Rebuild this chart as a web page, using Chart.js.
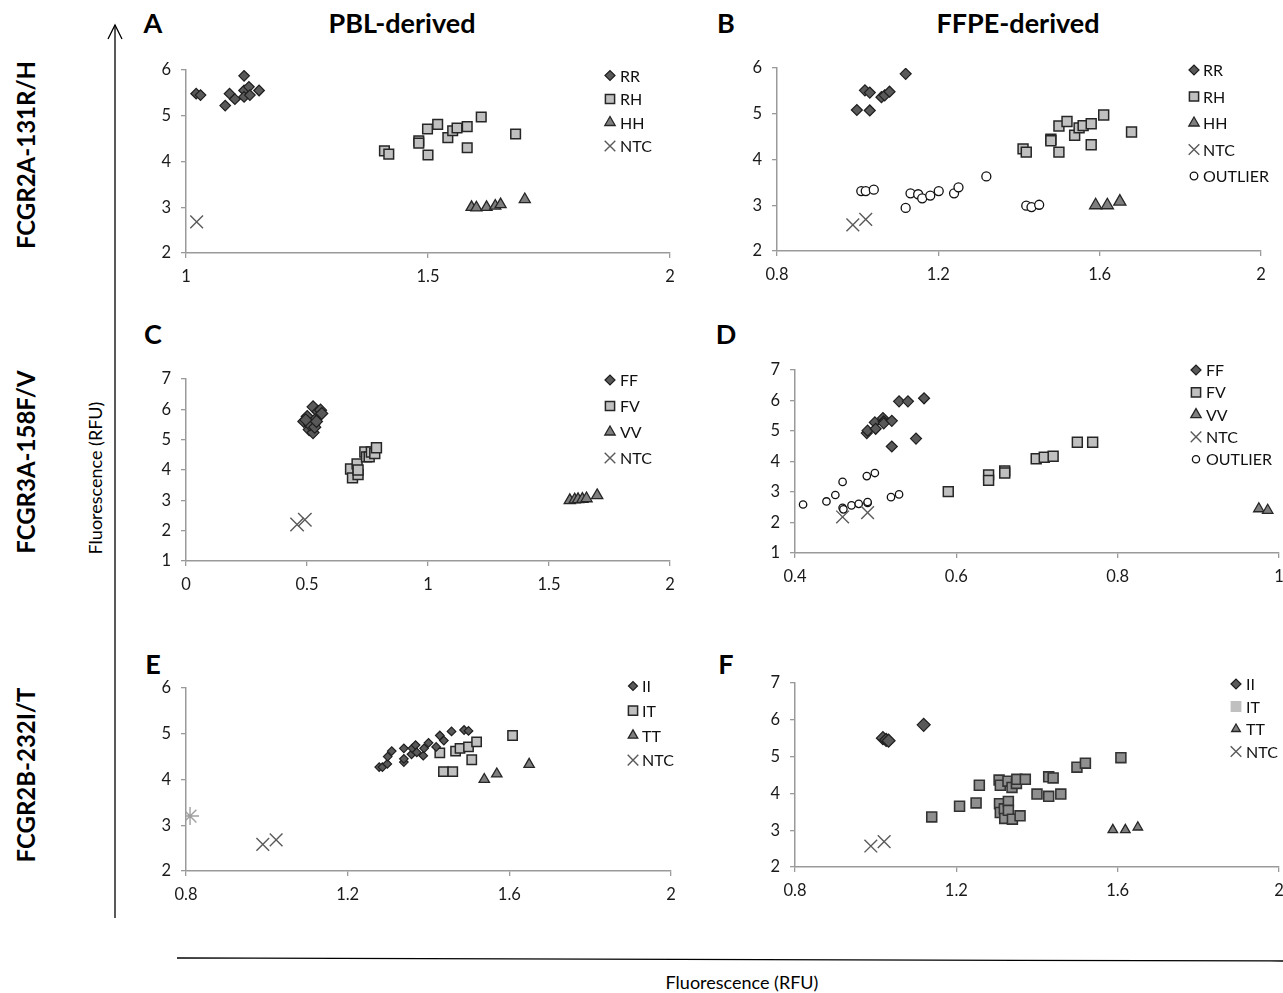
<!DOCTYPE html>
<html><head><meta charset="utf-8">
<script src="https://cdn.jsdelivr.net/npm/chart.js@4.4.1/dist/chart.umd.min.js"></script>
<style>
html,body{margin:0;padding:0;background:#fff;width:1283px;height:993px;overflow:hidden;font-family:Lato,"Open Sans",sans-serif;}
.box{position:absolute;}
.t{position:absolute;white-space:nowrap;color:#000;transform:translate(-50%,-50%);line-height:1;}
.rot{transform:translate(-50%,-50%) rotate(-90deg);}
svg{position:absolute;left:0;top:0;}
</style></head><body>
<svg width="1283" height="993">
  <line x1="115" y1="25" x2="115" y2="918" stroke="#000" stroke-width="1.3"/>
  <polyline points="108,39 115,25 122,39" fill="none" stroke="#000" stroke-width="1.3"/>
  <line x1="177" y1="958" x2="1283" y2="961" stroke="#000" stroke-width="1.3"/>
</svg>
<div class="t" style="left:153px;top:22px;font-size:27px;font-weight:bold">A</div>
<div class="t" style="left:726px;top:22px;font-size:27px;font-weight:bold">B</div>
<div class="t" style="left:153px;top:333px;font-size:27px;font-weight:bold">C</div>
<div class="t" style="left:726px;top:333px;font-size:27px;font-weight:bold">D</div>
<div class="t" style="left:153px;top:663px;font-size:27px;font-weight:bold">E</div>
<div class="t" style="left:726px;top:663px;font-size:27px;font-weight:bold">F</div>
<div class="t" style="left:402px;top:22px;font-size:27px;font-weight:bold">PBL-derived</div>
<div class="t" style="left:1018px;top:22px;font-size:27px;font-weight:bold">FFPE-derived</div>
<div class="t rot" style="left:26px;top:155px;font-size:24px;font-weight:bold">FCGR2A-131R/H</div>
<div class="t rot" style="left:26px;top:462px;font-size:24px;font-weight:bold">FCGR3A-158F/V</div>
<div class="t rot" style="left:26px;top:775px;font-size:24px;font-weight:bold">FCGR2B-232I/T</div>
<div class="t rot" style="left:95px;top:478px;font-size:18px;">Fluorescence (RFU)</div>
<div class="t" style="left:742px;top:982px;font-size:18px;">Fluorescence (RFU)</div>
<div id="wrap"></div>
<script>
// ---------------- DATA ----------------
// Panel A (PBL, FCGR2A-131R/H)
const A_xTicks = [1, 1.5, 2];
const A_yTicks = [2, 3, 4, 5, 6];
const A_RR = [[1.021,5.48],[1.030,5.45],[1.081,5.22],[1.090,5.48],[1.101,5.36],[1.120,5.87],[1.120,5.55],[1.120,5.41],[1.130,5.63],[1.132,5.45],[1.151,5.55]];
const A_RH = [[1.410,4.23],[1.419,4.16],[1.481,4.45],[1.481,4.40],[1.499,4.71],[1.500,4.14],[1.520,4.81],[1.541,4.52],[1.551,4.67],[1.560,4.73],[1.581,4.76],[1.581,4.30],[1.610,4.97],[1.681,4.60]];
const A_HH = [[1.590,3.0],[1.600,2.99],[1.621,3.0],[1.639,3.03],[1.650,3.06],[1.700,3.17]];
const A_NTC = [[1.022,2.68]];

// Panel B (FFPE, FCGR2A-131R/H)
const B_xTicks = [0.8, 1.2, 1.6, 2];
const B_yTicks = [2, 3, 4, 5, 6];
const B_RR = [[0.998,5.08],[1.018,5.51],[1.030,5.46],[1.030,5.07],[1.059,5.36],[1.067,5.40],[1.079,5.48],[1.119,5.87]];
const B_RH = [[1.410,4.23],[1.418,4.16],[1.479,4.44],[1.479,4.41],[1.499,4.73],[1.499,4.16],[1.519,4.83],[1.538,4.53],[1.549,4.69],[1.559,4.74],[1.579,4.78],[1.579,4.32],[1.610,4.97],[1.679,4.60]];
const B_HH = [[1.590,3.0],[1.619,3.0],[1.650,3.08]];
const B_NTC = [[0.988,2.57],[1.020,2.69]];
const B_OUT = [[1.009,3.31],[1.020,3.31],[1.040,3.34],[1.119,2.94],[1.131,3.26],[1.150,3.24],[1.160,3.15],[1.180,3.21],[1.201,3.31],[1.239,3.26],[1.250,3.39],[1.319,3.63],[1.418,2.99],[1.431,2.96],[1.450,3.01]];

// Panel C (PBL, FCGR3A-158F/V)
const C_xTicks = [0, 0.5, 1, 1.5, 2];
const C_yTicks = [1, 2, 3, 4, 5, 6, 7];
const C_FF = [[0.487,5.60],[0.501,5.76],[0.509,5.33],[0.525,6.08],[0.525,5.23],[0.528,5.49],[0.539,5.70],[0.546,5.92],[0.556,5.97],[0.561,5.86],[0.512,5.49],[0.532,5.41],[0.539,5.60],[0.495,5.65]];
const C_FV = [[0.680,4.03],[0.688,3.74],[0.707,4.20],[0.711,3.85],[0.739,4.59],[0.746,4.43],[0.757,4.43],[0.766,4.59],[0.780,4.54],[0.787,4.73],[0.711,4.00]];
const C_VV = [[1.586,3.0],[1.606,3.02],[1.620,3.03],[1.638,3.04],[1.655,3.06],[1.699,3.16]];
const C_NTC = [[0.459,2.20],[0.491,2.36]];

// Panel D (FFPE, FCGR3A-158F/V)
const D_xTicks = [0.4, 0.6, 0.8, 1];
const D_yTicks = [1, 2, 3, 4, 5, 6, 7];
const D_FF = [[0.489,4.93],[0.490,5.01],[0.499,5.28],[0.500,5.07],[0.509,5.42],[0.510,5.31],[0.510,5.25],[0.520,5.33],[0.520,4.49],[0.529,5.97],[0.540,5.97],[0.550,4.75],[0.560,6.07]];
const D_FV = [[0.590,3.01],[0.640,3.56],[0.640,3.38],[0.660,3.69],[0.660,3.62],[0.699,4.09],[0.709,4.14],[0.720,4.17],[0.750,4.63],[0.769,4.63]];
const D_VV = [[0.975,2.45],[0.986,2.40]];
const D_NTC = [[0.459,2.18],[0.490,2.32]];
const D_OUT = [[0.410,2.59],[0.439,2.69],[0.450,2.90],[0.459,3.33],[0.459,2.48],[0.460,2.43],[0.470,2.56],[0.479,2.61],[0.489,3.52],[0.490,2.64],[0.490,2.67],[0.499,3.62],[0.519,2.83],[0.529,2.92]];

// Panel E (PBL, FCGR2B-232I/T)
const E_xTicks = [0.8, 1.2, 1.6, 2];
const E_yTicks = [2, 3, 4, 5, 6];
const E_II = [[1.278,4.27],[1.286,4.27],[1.298,4.34],[1.299,4.50],[1.309,4.62],[1.339,4.38],[1.339,4.45],[1.339,4.68],[1.358,4.55],[1.360,4.68],[1.368,4.75],[1.371,4.59],[1.387,4.52],[1.389,4.68],[1.400,4.80],[1.419,4.71],[1.428,4.96],[1.438,4.85],[1.457,5.05],[1.488,5.08],[1.499,5.06]];
const E_IT = [[1.428,4.58],[1.437,4.17],[1.460,4.17],[1.467,4.62],[1.478,4.68],[1.499,4.71],[1.507,4.43],[1.519,4.82],[1.608,4.96]];
const E_TT = [[1.538,4.00],[1.569,4.12],[1.649,4.33]];
const E_NTC = [[0.810,3.20],[0.990,2.58],[1.023,2.68]];

// Panel F (FFPE, FCGR2B-232I/T)
const F_xTicks = [0.8, 1.2, 1.6, 2];
const F_yTicks = [2, 3, 4, 5, 6, 7];
const F_II = [[1.018,5.50],[1.026,5.45],[1.032,5.43],[1.119,5.86]];
const F_IT = [[1.139,3.36],[1.208,3.65],[1.249,3.74],[1.257,4.22],[1.306,4.36],[1.309,4.22],[1.307,3.72],[1.309,3.48],[1.319,3.58],[1.320,3.32],[1.328,4.33],[1.329,3.78],[1.329,3.54],[1.338,4.16],[1.339,3.30],[1.349,4.27],[1.350,4.38],[1.358,3.39],[1.371,4.38],[1.400,3.98],[1.429,4.45],[1.429,3.92],[1.440,4.42],[1.459,3.98],[1.499,4.71],[1.520,4.82],[1.608,4.97]];
const F_TT = [[1.588,3.01],[1.619,3.01],[1.650,3.08]];
const F_NTC = [[0.988,2.57],[1.021,2.69]];

// ---------------- STYLES ----------------
const STY = {
  diamond: {pointStyle:'rectRot', bg:'#595959', border:'#1e1e1e', bw:1.2},
  square:  {pointStyle:'rect', bg:'#c0c0c0', border:'#262626', bw:1.5},
  squareF: {pointStyle:'rect', bg:'#8f8f8f', border:'#333333', bw:1.6},
  triangle:{pointStyle:'triangle', bg:'#7f7f7f', border:'#262626', bw:1.3},
  cross:   {pointStyle:'crossRot', bg:'#595959', border:'#5a5a5a', bw:1.4},
  circle:  {pointStyle:'circle', bg:'#ffffff', border:'#111111', bw:1.3}
};

function S(label, data, style, r, lr, extra) {
  return Object.assign({label, style, r, lr, data}, extra || {});
}

const PANELS = [
  {plot:[186,670,64,253], xr:[1,2], xt:A_xTicks, yr:[2,6], yt:A_yTicks,
   legend:{x:610, tx:620, y:75.5, dy:23.5},
   series:[S('RR',A_RR,'diamond',5.3,5), S('RH',A_RH,'square',6.8,6.5), S('HH',A_HH,'triangle',6.4,6), S('NTC',A_NTC,'cross',9,7.5)]},
  {plot:[777,1261,62,251], xr:[0.8,2], xt:B_xTicks, yr:[2,6], yt:B_yTicks,
   legend:{x:1194, tx:1203, y:70, dy:26.5},
   series:[S('RR',B_RR,'diamond',5.5,5), S('RH',B_RH,'square',7,6.5), S('HH',B_HH,'triangle',7,6), S('NTC',B_NTC,'cross',9,7.5), S('OUTLIER',B_OUT,'circle',4.5,3.8)]},
  {plot:[186,670,373,561], xr:[0,2], xt:C_xTicks, yr:[1,7], yt:C_yTicks,
   legend:{x:610, tx:620, y:380, dy:26},
   series:[S('FF',C_FF,'diamond',6,5), S('FV',C_FV,'square',7,6.5), S('VV',C_VV,'triangle',6.5,6), S('NTC',C_NTC,'cross',9.5,7.5)]},
  {plot:[795,1279,364,553], xr:[0.4,1], xt:D_xTicks, yr:[1,7], yt:D_yTicks,
   legend:{x:1196, tx:1206, y:370, dy:22.3},
   series:[S('FF',D_FF,'diamond',5.5,5), S('FV',D_FV,'square',7,6.5), S('VV',D_VV,'triangle',6,6), S('NTC',D_NTC,'cross',9,7.5), S('OUTLIER',D_OUT,'circle',3.7,3.6)]},
  {plot:[186,671,682,871], xr:[0.8,2], xt:E_xTicks, yr:[2,6], yt:E_yTicks,
   legend:{x:633, tx:642, y:686, dy:24.7},
   series:[S('II',E_II,'diamond',4.3,4.5), S('IT',E_IT,'square',6.6,6.5), S('TT',E_TT,'triangle',6,5.5),
           S('NTC',E_NTC,'cross',9,7.5,{pointStyles:['star','crossRot','crossRot'], colors:['#a0a0a0','#5a5a5a','#5a5a5a']})]},
  {plot:[795,1279,677,867], xr:[0.8,2], xt:F_xTicks, yr:[2,7], yt:F_yTicks,
   legend:{x:1236, tx:1246, y:684, dy:22.5},
   series:[S('II',F_II,'diamond',6.5,5), S('IT',F_IT,'squareF',7,6.5,{legendBg:'#c0c0c0', legendBorder:'#c0c0c0'}), S('TT',F_TT,'triangle',5.5,5), S('NTC',F_NTC,'cross',9,7.5)]}
];

// ---------------- LAYOUT CONSTANTS ----------------
const YW = 55, XH = 45, PT = 14, PR = 24;
const TICK_FONT = {family:'Lato', size:16.5};

function fmt(v){ return String(+Number(v).toFixed(3)); }

function drawPointFallback(ctx, style, r, x, y){
  ctx.beginPath();
  if (style==='rectRot'){ ctx.moveTo(x,y-r); ctx.lineTo(x+r,y); ctx.lineTo(x,y+r); ctx.lineTo(x-r,y); ctx.closePath(); ctx.fill(); ctx.stroke(); }
  else if (style==='rect'){ const s=r*Math.SQRT1_2; ctx.rect(x-s,y-s,2*s,2*s); ctx.fill(); ctx.stroke(); }
  else if (style==='triangle'){ ctx.moveTo(x,y-r); ctx.lineTo(x+r*0.866,y+r*0.5); ctx.lineTo(x-r*0.866,y+r*0.5); ctx.closePath(); ctx.fill(); ctx.stroke(); }
  else if (style==='crossRot'){ const s=r*Math.SQRT1_2; ctx.moveTo(x-s,y-s); ctx.lineTo(x+s,y+s); ctx.moveTo(x+s,y-s); ctx.lineTo(x-s,y+s); ctx.stroke(); }
  else { ctx.arc(x,y,r,0,Math.PI*2); ctx.fill(); ctx.stroke(); }
}

const legendPlugin = {
  id:'pageLegend',
  afterDraw(chart, args, opts){
    if (!opts || !opts.items) return;
    const ctx = chart.ctx;
    ctx.save();
    opts.items.forEach((it, i) => {
      const x = opts.x - opts.left, y = opts.y + i*opts.dy - opts.top;
      ctx.fillStyle = it.bg; ctx.strokeStyle = it.border; ctx.lineWidth = it.bw;
      const H = Chart.helpers;
      if (H && H.drawPoint) H.drawPoint(ctx, {pointStyle: it.pointStyle, radius: it.r, rotation: 0, borderWidth: it.bw}, x, y);
      else drawPointFallback(ctx, it.pointStyle, it.r, x, y);
      ctx.fillStyle = '#111'; ctx.font = '16px Lato'; ctx.textAlign = 'left'; ctx.textBaseline = 'middle';
      ctx.fillText(it.label, opts.tx - opts.left, y + 1);
    });
    ctx.restore();
  }
};

function build(){
  const wrap = document.getElementById('wrap');
  PANELS.forEach(p => {
    const [l, r, t, b] = p.plot;
    const L = l - YW, T = t - PT, W = r + PR - L, Hh = b + XH - T;
    const div = document.createElement('div');
    div.className = 'box';
    div.style.left = L + 'px'; div.style.top = T + 'px';
    div.style.width = W + 'px'; div.style.height = Hh + 'px';
    const cv = document.createElement('canvas');
    cv.width = W; cv.height = Hh; cv.style.width = W + 'px'; cv.style.height = Hh + 'px';
    div.appendChild(cv); wrap.appendChild(div);

    const datasets = p.series.map(s => {
      const st = STY[s.style];
      return {
        label: s.label,
        data: s.data.map(d => ({x:d[0], y:d[1]})),
        pointStyle: s.pointStyles || st.pointStyle,
        pointRadius: s.r, pointHoverRadius: s.r,
        pointBackgroundColor: st.bg,
        pointBorderColor: s.colors || st.border,
        pointBorderWidth: st.bw,
        showLine: false
      };
    });
    const items = p.series.map(s => {
      const st = STY[s.style];
      return {label: s.label, pointStyle: st.pointStyle, r: s.lr,
              bg: s.legendBg || st.bg, border: s.legendBorder || st.border, bw: st.bw};
    });

    const axis = (ticksArr, range, pad) => ({
      type:'linear', min: range[0], max: range[1],
      afterBuildTicks: sc => { sc.ticks = ticksArr.map(v => ({value:v})); },
      ticks:{ font: TICK_FONT, color:'#1a1a1a', padding: pad, callback: v => fmt(v), autoSkip:false, maxRotation:0 },
      grid:{ display:true, drawOnChartArea:false, drawTicks:true, tickLength:5, color:'#9a9a9a', lineWidth:1.3 },
      border:{ display:true, color:'#9a9a9a', width:1.5 }
    });
    const xs = axis(p.xt, p.xr, 9); xs.position = 'bottom'; xs.afterFit = sc => { sc.height = XH; };
    const ys = axis(p.yt, p.yr, 10); ys.position = 'left'; ys.afterFit = sc => { sc.width = YW; };

    new Chart(cv, {
      type:'scatter',
      data:{ datasets },
      options:{
        responsive:false, animation:false, devicePixelRatio:1,
        layout:{ padding:{ top: PT, right: PR, left:0, bottom:0 } },
        scales:{ x: xs, y: ys },
        plugins:{ legend:{display:false}, tooltip:{enabled:false},
          pageLegend:{ items, x:p.legend.x, tx:p.legend.tx, y:p.legend.y, dy:p.legend.dy, left:L, top:T } },
        elements:{ point:{ hitRadius:0 } }
      },
      plugins:[legendPlugin]
    });
  });
}

const ready = (document.fonts && document.fonts.load)
  ? Promise.all([document.fonts.load('16px Lato'), document.fonts.load('bold 16px Lato')]).catch(()=>{})
  : Promise.resolve();
ready.then(build, build);
</script>
</body></html>
